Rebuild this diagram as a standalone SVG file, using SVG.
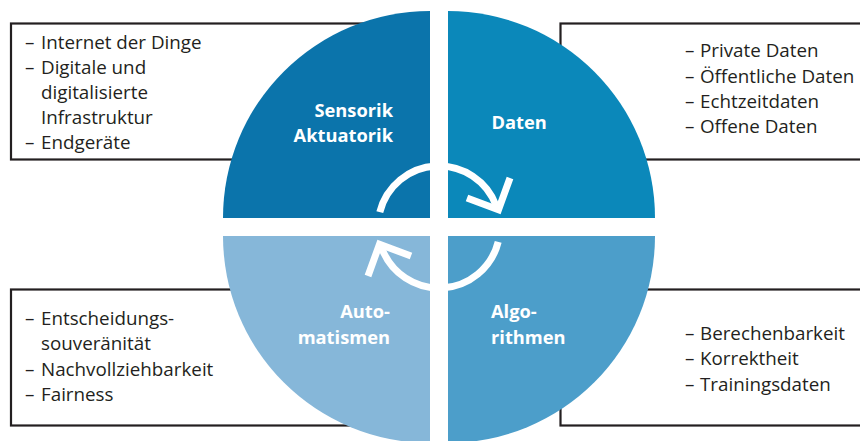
<svg xmlns="http://www.w3.org/2000/svg" width="860" height="441" viewBox="0 0 860 441">
<style>
.box{fill:#fff;stroke:#231f20;stroke-width:2.2}
.item{font-family:"Open Sans","Liberation Sans",sans-serif;font-size:18.8px;fill:#231f20}
.lbl{font-family:"Open Sans","Liberation Sans",sans-serif;font-size:18.3px;font-weight:bold;fill:#fff}
.ring{fill:none;stroke:#fff;stroke-width:7}
</style>
<rect width="860" height="441" fill="#fff"/>
<g id="box-tl">
<rect class="box" x="11" y="23.5" width="390" height="136"/>
<text class="item" y="48.5"><tspan x="25">– </tspan><tspan x="41">Internet der Dinge</tspan></text>
<text class="item" y="73.5"><tspan x="25">– </tspan><tspan x="41">Digitale und</tspan></text>
<text class="item" x="41" y="98.5">digitalisierte</text>
<text class="item" x="41" y="123.5">Infrastruktur</text>
<text class="item" y="148.5"><tspan x="25">– </tspan><tspan x="41">Endgeräte</tspan></text>
</g>
<g id="box-tr">
<rect class="box" x="560.5" y="23.5" width="320" height="136"/>
<text class="item" y="57.3"><tspan x="685">– </tspan><tspan x="700">Private Daten</tspan></text>
<text class="item" y="82.6"><tspan x="685">– </tspan><tspan x="700">Öffentliche Daten</tspan></text>
<text class="item" y="108"><tspan x="685">– </tspan><tspan x="700">Echtzeitdaten</tspan></text>
<text class="item" y="133.3"><tspan x="685">– </tspan><tspan x="700">Offene Daten</tspan></text>
</g>
<g id="box-bl">
<rect class="box" x="11" y="289.5" width="390" height="136"/>
<text class="item" y="324.5"><tspan x="25">– </tspan><tspan x="41">Entscheidungs-</tspan></text>
<text class="item" x="41" y="350">souveränität</text>
<text class="item" y="375.5"><tspan x="25">– </tspan><tspan x="41">Nachvollziehbarkeit</tspan></text>
<text class="item" y="401.3"><tspan x="25">– </tspan><tspan x="41">Fairness</tspan></text>
</g>
<g id="box-br">
<rect class="box" x="560.5" y="289.5" width="320" height="136"/>
<text class="item" y="340"><tspan x="685">– </tspan><tspan x="700">Berechenbarkeit</tspan></text>
<text class="item" y="365.3"><tspan x="685">– </tspan><tspan x="700">Korrektheit</tspan></text>
<text class="item" y="390.7"><tspan x="685">– </tspan><tspan x="700">Trainingsdaten</tspan></text>
</g>
<g id="q-sensorik">
<path d="M430,218 L223,218 A207,207 0 0 1 430,11 Z" fill="#0b74ab"/>
<text class="lbl" text-anchor="end" x="393" y="117">Sensorik</text>
<text class="lbl" text-anchor="end" x="393" y="142.3">Aktuatorik</text>
</g>
<g id="q-daten">
<path d="M448,218 L448,11 A207,207 0 0 1 655,218 Z" fill="#0b88ba"/>
<text class="lbl" x="491.5" y="129.3">Daten</text>
</g>
<g id="q-algorithmen">
<path d="M448,236 L655,236 A207,207 0 0 1 448,443 Z" fill="#4c9eca"/>
<text class="lbl" x="491" y="318.3">Algo-</text>
<text class="lbl" x="491" y="344">rithmen</text>
</g>
<g id="q-automatismen">
<path d="M430,236 L430,443 A207,207 0 0 1 223,236 Z" fill="#86b7d9"/>
<text class="lbl" text-anchor="end" x="390" y="318.3">Auto-</text>
<text class="lbl" text-anchor="end" x="390" y="344">matismen</text>
</g>
<g id="connectors">
<g id="arrow-top">
<path class="ring" d="M379.8,212.2 A61,61 0 0 1 496.3,206.1"/>
<polyline class="ring" points="467,198 498.5,209.8 510,178" stroke-linejoin="miter"/>
</g>
<g id="arrow-bottom" transform="rotate(180 439 227)">
<path class="ring" d="M379.8,212.2 A61,61 0 0 1 496.3,206.1"/>
<polyline class="ring" points="467,198 498.5,209.8 510,178" stroke-linejoin="miter"/>
</g>
</g>
</svg>
